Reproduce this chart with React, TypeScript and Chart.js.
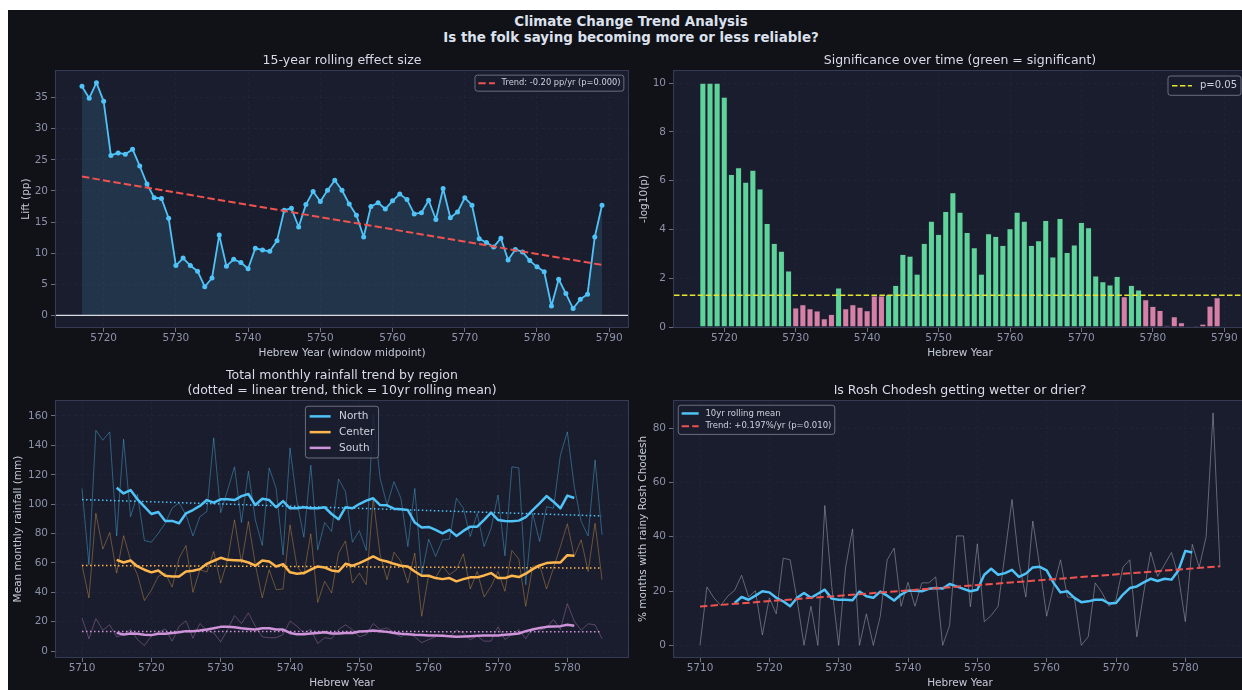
import React, { useEffect, useRef } from 'react';
import { Chart, registerables } from 'chart.js';

Chart.register(...registerables);

const FONT = '"DejaVu Sans", Verdana, sans-serif';
Chart.defaults.font.family = FONT;

// ---------- colours ----------
const FIG_BG = '#101218';
const AX_BG = '#1a1d2e';
const SPINE = '#363b55';
const TICK_TXT = '#8c91aa';
const TICK_MARK = '#6a6f88';
const LABEL_TXT = '#c6cad8';
const TITLE_TXT = '#d8dce8';
const LEGEND_TXT = '#cdd1dc';
const GRID = 'rgba(200,210,255,0.045)';
const BLUE = '#4fc3f7';
const BLUE_FILL = 'rgba(79,195,247,0.14)';
const ORANGE = '#ffb74d';
const PURPLE = '#ce93d8';
const RED = '#ef5350';
const YELLOW = '#e6e62e';
const GREEN_BAR = '#5ed49a';
const PINK_BAR = '#d680a6';

// ---------- text ----------
const SUPTITLE = ['Climate Change Trend Analysis', 'Is the folk saying becoming more or less reliable?'];
const TL_TITLE = '15-year rolling effect size';
const TR_TITLE = 'Significance over time (green = significant)';
const BL_TITLE = ['Total monthly rainfall trend by region', '(dotted = linear trend, thick = 10yr rolling mean)'];
const BR_TITLE = 'Is Rosh Chodesh getting wetter or drier?';
const TL_TREND_LABEL = 'Trend: -0.20 pp/yr (p=0.000)';
const TR_THRESHOLD_LABEL = 'p=0.05';
const BR_ROLL_LABEL = '10yr rolling mean';
const BR_TREND_LABEL = 'Trend: +0.197%/yr (p=0.010)';
const REGIONS = ['North', 'Center', 'South'];

// ---------- ticks ----------
const TOP_X_TICKS = [5720, 5730, 5740, 5750, 5760, 5770, 5780, 5790];
const BOT_X_TICKS = [5710, 5720, 5730, 5740, 5750, 5760, 5770, 5780];
const TL_Y_TICKS = [0, 5, 10, 15, 20, 25, 30, 35];
const TR_Y_TICKS = [0, 2, 4, 6, 8, 10];
const BL_Y_TICKS = [0, 20, 40, 60, 80, 100, 120, 140, 160];
const BR_Y_TICKS = [0, 20, 40, 60, 80];

// ---------- data: rolling-window panels ----------
const WINDOW_YEARS = [5717, 5718, 5719, 5720, 5721, 5722, 5723, 5724, 5725, 5726, 5727, 5728, 5729, 5730, 5731, 5732, 5733, 5734, 5735, 5736, 5737, 5738, 5739, 5740, 5741, 5742, 5743, 5744, 5745, 5746, 5747, 5748, 5749, 5750, 5751, 5752, 5753, 5754, 5755, 5756, 5757, 5758, 5759, 5760, 5761, 5762, 5763, 5764, 5765, 5766, 5767, 5768, 5769, 5770, 5771, 5772, 5773, 5774, 5775, 5776, 5777, 5778, 5779, 5780, 5781, 5782, 5783, 5784, 5785, 5786, 5787, 5788, 5789];
const LIFT = [36.8, 34.9, 37.4, 34.4, 25.7, 26.1, 25.9, 26.7, 24.0, 21.1, 18.9, 18.8, 15.6, 8.0, 9.2, 8.0, 7.1, 4.6, 6.0, 12.9, 7.9, 9.0, 8.5, 7.5, 10.8, 10.5, 10.3, 12.0, 16.9, 17.2, 14.2, 17.8, 19.9, 18.3, 20.1, 21.7, 20.1, 17.9, 16.1, 12.6, 17.5, 18.1, 17.1, 18.4, 19.5, 18.6, 16.3, 16.5, 18.5, 15.4, 20.4, 15.7, 16.6, 18.9, 17.7, 12.3, 11.7, 11.0, 12.4, 8.9, 10.6, 10.2, 8.8, 7.8, 7.0, 1.5, 5.8, 3.5, 1.1, 2.6, 3.4, 12.6, 17.7];
const TL_TREND_YEARS = [5717, 5789];
const TL_TREND = [22.3, 8.1];
const NEG_LOG_P = [10.0, 10.0, 10.0, 9.43, 6.26, 6.54, 5.94, 6.43, 5.66, 4.25, 3.43, 3.11, 2.30, 0.78, 0.92, 0.75, 0.66, 0.34, 0.52, 1.60, 0.75, 0.92, 0.81, 0.67, 1.28, 1.28, 1.33, 1.71, 2.98, 2.91, 2.17, 3.43, 4.34, 3.80, 4.74, 5.51, 4.71, 3.88, 3.25, 2.17, 3.83, 3.72, 3.35, 4.03, 4.71, 4.34, 3.35, 3.54, 4.37, 2.88, 4.45, 3.06, 3.37, 4.29, 4.08, 2.10, 1.86, 1.73, 2.08, 1.24, 1.71, 1.52, 1.12, 0.85, 0.68, 0.07, 0.42, 0.18, 0.01, 0.05, 0.12, 0.86, 1.20];
const P_THRESHOLD = 1.301;

// ---------- data: yearly panels ----------
const YEARS = [5710, 5711, 5712, 5713, 5714, 5715, 5716, 5717, 5718, 5719, 5720, 5721, 5722, 5723, 5724, 5725, 5726, 5727, 5728, 5729, 5730, 5731, 5732, 5733, 5734, 5735, 5736, 5737, 5738, 5739, 5740, 5741, 5742, 5743, 5744, 5745, 5746, 5747, 5748, 5749, 5750, 5751, 5752, 5753, 5754, 5755, 5756, 5757, 5758, 5759, 5760, 5761, 5762, 5763, 5764, 5765, 5766, 5767, 5768, 5769, 5770, 5771, 5772, 5773, 5774, 5775, 5776, 5777, 5778, 5779, 5780, 5781, 5782, 5783, 5784, 5785];
const ROLL_YEARS = [5715, 5716, 5717, 5718, 5719, 5720, 5721, 5722, 5723, 5724, 5725, 5726, 5727, 5728, 5729, 5730, 5731, 5732, 5733, 5734, 5735, 5736, 5737, 5738, 5739, 5740, 5741, 5742, 5743, 5744, 5745, 5746, 5747, 5748, 5749, 5750, 5751, 5752, 5753, 5754, 5755, 5756, 5757, 5758, 5759, 5760, 5761, 5762, 5763, 5764, 5765, 5766, 5767, 5768, 5769, 5770, 5771, 5772, 5773, 5774, 5775, 5776, 5777, 5778, 5779, 5780, 5781];
const TREND_YEARS = [5710, 5785];

const NORTH_RAW = [110.7, 58.8, 150.3, 143.5, 149.2, 78.4, 144.2, 91.5, 106.7, 75.3, 74.1, 80.2, 87.0, 97.2, 101.0, 92.7, 78.4, 91.5, 94.9, 145.1, 94.2, 109.6, 125.4, 87.5, 122.5, 89.3, 71.9, 124.7, 110.7, 65.5, 138.3, 101.7, 77.5, 126.5, 68.9, 87.5, 81.4, 117.1, 108.5, 74.1, 82.0, 68.5, 161.0, 117.5, 99.4, 115.3, 104.0, 71.2, 110.7, 52.0, 76.2, 64.4, 75.7, 76.2, 104.0, 97.2, 78.0, 93.8, 71.2, 83.6, 106.2, 64.9, 125.4, 124.7, 45.2, 93.8, 74.6, 98.3, 97.2, 133.3, 149.2, 111.9, 88.2, 78.4, 130.0, 79.1];
const CENTER_RAW = [58.8, 36.2, 93.8, 69.4, 80.7, 53.1, 78.6, 62.1, 52.0, 34.4, 41.4, 50.9, 53.1, 43.6, 63.3, 71.9, 40.0, 55.4, 53.8, 67.8, 46.3, 62.1, 89.3, 59.9, 88.2, 58.8, 36.2, 55.4, 41.8, 42.3, 85.9, 57.6, 52.0, 79.8, 33.2, 47.5, 39.6, 66.7, 75.0, 46.3, 53.1, 45.2, 104.0, 65.5, 48.6, 67.3, 61.0, 46.3, 66.7, 23.7, 52.0, 50.0, 58.0, 52.0, 55.4, 66.2, 42.3, 54.2, 36.8, 44.1, 54.2, 40.7, 68.5, 62.6, 30.5, 57.6, 58.8, 42.3, 56.5, 71.2, 86.6, 64.4, 75.7, 54.2, 87.0, 48.6];
const SOUTH_RAW = [22.6, 8.4, 22.1, 14.2, 17.9, 9.7, 11.3, 14.7, 7.9, 3.8, 10.2, 12.9, 15.1, 6.8, 16.9, 20.6, 8.8, 18.8, 14.2, 12.4, 6.3, 14.7, 24.2, 18.8, 26.0, 17.0, 9.7, 9.1, 9.1, 11.3, 20.4, 17.0, 12.4, 14.7, 5.2, 9.1, 8.4, 14.7, 17.9, 14.7, 9.7, 11.3, 18.8, 14.7, 15.8, 12.4, 9.7, 12.4, 9.7, 5.7, 7.9, 9.7, 11.3, 9.7, 14.2, 12.4, 7.7, 10.2, 6.8, 6.8, 16.5, 7.9, 11.3, 14.7, 8.4, 15.8, 14.2, 15.8, 21.5, 14.7, 32.3, 20.4, 14.2, 18.6, 17.9, 8.4];

const NORTH_ROLL = [111.2, 107.3, 109.6, 103.3, 98.3, 93.3, 94.7, 88.6, 88.6, 87.0, 93.8, 96.0, 98.8, 102.8, 101.0, 103.3, 103.3, 102.8, 105.5, 106.9, 99.4, 103.7, 102.8, 97.9, 102.1, 97.2, 97.2, 97.9, 97.2, 97.2, 97.9, 93.3, 89.7, 97.9, 97.2, 100.1, 102.4, 104.0, 99.4, 99.2, 96.9, 96.5, 96.0, 87.5, 84.1, 84.5, 82.5, 80.2, 82.5, 78.4, 81.8, 84.7, 84.7, 89.3, 94.2, 89.3, 88.6, 88.4, 88.8, 91.1, 96.0, 100.6, 105.5, 101.7, 97.2, 105.8, 104.2];
const CENTER_ROLL = [62.1, 60.3, 61.7, 57.6, 55.4, 53.6, 54.9, 51.3, 50.8, 50.8, 54.2, 54.7, 55.8, 59.4, 61.5, 63.5, 62.1, 61.9, 61.7, 60.3, 58.1, 61.7, 61.0, 57.6, 59.2, 53.6, 52.7, 53.1, 55.4, 57.6, 56.9, 54.9, 54.2, 59.4, 58.1, 59.9, 62.1, 64.4, 62.1, 61.0, 59.4, 58.1, 57.6, 54.2, 51.3, 51.3, 49.7, 49.0, 49.7, 47.5, 49.0, 50.2, 50.2, 51.5, 53.1, 49.7, 49.7, 51.3, 50.4, 52.7, 55.8, 58.3, 59.9, 60.3, 60.3, 65.3, 64.9];
const SOUTH_ROLL = [12.4, 11.3, 12.0, 11.8, 11.1, 10.9, 11.8, 11.8, 12.4, 12.9, 13.6, 13.6, 14.0, 14.7, 15.6, 16.5, 16.5, 16.3, 15.6, 15.1, 14.7, 15.6, 15.6, 14.7, 14.7, 12.4, 11.5, 11.5, 12.0, 12.4, 12.9, 12.0, 12.0, 12.4, 12.4, 13.3, 13.6, 14.0, 13.6, 13.1, 12.4, 11.8, 11.5, 11.1, 10.9, 10.6, 10.6, 10.4, 10.2, 9.7, 9.9, 10.2, 10.4, 10.6, 10.6, 10.6, 11.1, 11.5, 12.0, 13.6, 14.7, 15.8, 16.5, 16.7, 17.0, 17.9, 17.2];
const NORTH_TREND = [103.1, 92.0];
const CENTER_TREND = [58.3, 56.5];
const SOUTH_TREND = [13.4, 13.2];

const RC_RAW = [0, 21.5, 17.5, 14.7, 18.1, 20.3, 25.8, 17.8, 20.1, 3.8, 17.5, 11.6, 32.1, 31.5, 16.8, 0, 14.4, 0, 51.5, 21.7, 0, 28.8, 42.9, 0, 11.6, 0, 10.7, 31.5, 35.8, 14.4, 23.2, 14.4, 23.0, 23.0, 25.2, 0, 7.3, 40.3, 40.3, 14.2, 37.4, 8.7, 11.0, 14.4, 33.9, 53.7, 30.5, 17.8, 45.8, 29.1, 10.7, 21.7, 31.5, 17.8, 17.5, 0, 3.2, 23.0, 19.3, 14.4, 16.8, 28.8, 31.5, 3.1, 19.3, 34.3, 25.4, 29.7, 34.2, 25.6, 8.7, 37.2, 28.8, 40.0, 85.6, 28.8];
const RC_ROLL = [15.6, 17.8, 16.8, 18.3, 19.9, 19.5, 17.5, 16.2, 14.4, 17.5, 19.3, 17.5, 19.0, 20.5, 17.2, 16.8, 16.8, 16.6, 19.8, 18.1, 17.5, 19.8, 18.3, 16.5, 18.7, 20.1, 20.1, 19.9, 20.8, 21.1, 20.9, 22.6, 21.7, 20.8, 19.9, 20.5, 26.0, 28.2, 26.0, 26.6, 27.8, 25.2, 26.4, 28.7, 28.9, 27.6, 23.0, 19.5, 19.9, 17.5, 15.9, 16.2, 16.8, 16.8, 15.4, 15.6, 18.7, 21.1, 21.7, 23.2, 24.5, 23.7, 24.5, 24.2, 27.6, 34.8, 34.2];
const RC_TREND = [14.3, 29.1];

// ---------- helpers ----------
const pts = (xs: number[], ys: number[]) => xs.map((x, i) => ({ x, y: ys[i] }));
const TICK_FONT = { family: FONT, size: 10.5 };

function xAxis(min: number, max: number, ticks: number[], title: string) {
  return {
    type: 'linear', min, max, bounds: 'data', offset: false,
    afterBuildTicks: (s: any) => { s.ticks = ticks.map((v) => ({ value: v })); },
    afterFit: (s: any) => { s.height = 40; },
    ticks: { color: TICK_TXT, font: TICK_FONT, padding: 0, autoSkip: false, maxRotation: 0, callback: (v: any) => String(v) },
    grid: { color: GRID, lineWidth: 0.8, drawTicks: true, tickLength: 5, tickColor: TICK_MARK, tickWidth: 1, offset: false },
    border: { display: false, dash: [3, 3] },
    title: { display: true, text: title, color: LABEL_TXT, font: TICK_FONT, padding: { top: 0, bottom: 7.7 } },
  };
}

function yAxis(min: number, max: number, ticks: number[], title: string, titlePad: number) {
  return {
    type: 'linear', min, max, bounds: 'data',
    afterBuildTicks: (s: any) => { s.ticks = ticks.map((v) => ({ value: v })); },
    afterFit: (s: any) => { s.width = 56; },
    ticks: { color: TICK_TXT, font: TICK_FONT, padding: 3, autoSkip: false, callback: (v: any) => String(v) },
    grid: { color: GRID, lineWidth: 0.8, drawTicks: true, tickLength: 5, tickColor: TICK_MARK, tickWidth: 1 },
    border: { display: false, dash: [3, 3] },
    title: { display: true, text: title, color: LABEL_TXT, font: TICK_FONT, padding: { top: titlePad, bottom: 0 } },
  };
}

function drawLegend(chart: any, cfg: any) {
  const { ctx, chartArea: a } = chart;
  const f = cfg.fontSize;
  ctx.save();
  ctx.font = `${f}px ${FONT}`;
  const tw = Math.max(...cfg.items.map((it: any) => ctx.measureText(it.label).width));
  const pad = 0.4 * f, hl = 2 * f, htp = 0.8 * f, rowH = 1.13 * f, gap = 0.37 * f;
  const n = cfg.items.length;
  const w = pad * 2 + hl + htp + tw;
  const h = pad * 2 + n * rowH + (n - 1) * gap;
  const inset = 0.5 * f;
  let x: number;
  if (cfg.loc === 'upper right') x = a.right - inset - w;
  else if (cfg.loc === 'upper left') x = a.left + inset;
  else x = (a.left + a.right) / 2 - w / 2;
  const y = a.top + inset;
  const r = 2.5;
  ctx.beginPath();
  ctx.moveTo(x + r, y);
  ctx.lineTo(x + w - r, y);
  ctx.arcTo(x + w, y, x + w, y + r, r);
  ctx.lineTo(x + w, y + h - r);
  ctx.arcTo(x + w, y + h, x + w - r, y + h, r);
  ctx.lineTo(x + r, y + h);
  ctx.arcTo(x, y + h, x, y + h - r, r);
  ctx.lineTo(x, y + r);
  ctx.arcTo(x, y, x + r, y, r);
  ctx.closePath();
  ctx.fillStyle = 'rgba(26,29,46,0.82)';
  ctx.fill();
  ctx.strokeStyle = 'rgba(160,165,182,0.6)';
  ctx.lineWidth = 1;
  ctx.stroke();
  cfg.items.forEach((it: any, i: number) => {
    const cy = y + pad + rowH / 2 + i * (rowH + gap);
    ctx.beginPath();
    ctx.strokeStyle = it.color;
    ctx.lineWidth = it.width;
    ctx.setLineDash(it.dash || []);
    ctx.moveTo(x + pad, cy);
    ctx.lineTo(x + pad + hl, cy);
    ctx.stroke();
    ctx.setLineDash([]);
    ctx.fillStyle = LEGEND_TXT;
    ctx.textBaseline = 'middle';
    ctx.textAlign = 'left';
    ctx.fillText(it.label, x + pad + hl + htp, cy);
  });
  ctx.restore();
}

const mplPlugin = {
  id: 'mpl',
  beforeDraw(chart: any) {
    const { ctx, chartArea: a } = chart;
    ctx.save();
    ctx.fillStyle = AX_BG;
    ctx.fillRect(a.left, a.top, a.right - a.left, a.bottom - a.top);
    ctx.restore();
  },
  afterDatasetsDraw(chart: any, _args: any, opts: any) {
    const { ctx, chartArea: a, scales } = chart;
    (opts.hLines || []).forEach((l: any) => {
      const y = scales.y.getPixelForValue(l.value);
      ctx.save();
      ctx.beginPath();
      ctx.strokeStyle = l.color;
      ctx.lineWidth = l.width;
      ctx.setLineDash(l.dash || []);
      ctx.moveTo(a.left, y);
      ctx.lineTo(a.right, y);
      ctx.stroke();
      ctx.restore();
    });
  },
  afterDraw(chart: any, _args: any, opts: any) {
    const { ctx, chartArea: a } = chart;
    ctx.save();
    ctx.strokeStyle = SPINE;
    ctx.lineWidth = 1;
    ctx.strokeRect(a.left - 0.5, a.top - 0.5, a.right - a.left + 1, a.bottom - a.top + 1);
    ctx.restore();
    if (opts.legend) drawLegend(chart, opts.legend);
  },
};

function baseOptions(o: any) {
  return {
    responsive: false,
    animation: false,
    devicePixelRatio: 1,
    events: [],
    layout: { padding: { left: 0, right: 4, top: 0, bottom: 0 } },
    plugins: {
      legend: { display: false },
      tooltip: { enabled: false },
      title: {
        display: true, fullSize: false, text: o.title, color: TITLE_TXT,
        font: { family: FONT, size: 12.5, weight: 'normal', lineHeight: 1.2 },
        padding: o.titlePad,
      },
      mpl: { hLines: o.hLines || [], legend: o.legend },
    },
    scales: { x: o.x, y: o.y },
  };
}

// ---------- chart configs ----------
const tlConfig = () => ({
  type: 'line',
  data: {
    datasets: [
      { label: TL_TREND_LABEL, data: pts(TL_TREND_YEARS, TL_TREND), borderColor: RED, borderWidth: 2, borderDash: [7.4, 3.2], pointRadius: 0, fill: false, order: 1 },
      { label: 'Lift', data: pts(WINDOW_YEARS, LIFT), borderColor: BLUE, borderWidth: 1.8, pointRadius: 2.5, pointBackgroundColor: BLUE, pointBorderWidth: 0, fill: 'origin', backgroundColor: BLUE_FILL, borderJoinStyle: 'round', order: 2 },
    ],
  },
  options: baseOptions({
    title: TL_TITLE,
    titlePad: { top: 12.5, bottom: 2.5 },
    x: xAxis(5713.4, 5792.6, TOP_X_TICKS, 'Hebrew Year (window midpoint)'),
    y: yAxis(-1.87, 39.27, TL_Y_TICKS, 'Lift (pp)', 19.7),
    hLines: [{ value: 0, color: 'rgba(240,240,245,0.9)', width: 1.2 }],
    legend: { loc: 'upper right', fontSize: 8.3, items: [{ label: TL_TREND_LABEL, color: RED, width: 2, dash: [7.4, 3.2] }] },
  }),
  plugins: [mplPlugin],
});

const trConfig = () => ({
  type: 'bar',
  data: {
    datasets: [
      {
        label: '-log10(p)', data: pts(WINDOW_YEARS, NEG_LOG_P),
        backgroundColor: NEG_LOG_P.map((v) => (v > P_THRESHOLD ? GREEN_BAR : PINK_BAR)),
        borderColor: 'rgba(45,50,68,0.9)', borderWidth: 0.6,
        barPercentage: 0.87, categoryPercentage: 1.0,
      },
    ],
  },
  options: baseOptions({
    title: TR_TITLE,
    titlePad: { top: 12.5, bottom: 2.5 },
    x: xAxis(5712.96, 5793.04, TOP_X_TICKS, 'Hebrew Year'),
    y: yAxis(0, 10.5, TR_Y_TICKS, '-log10(p)', 19.7),
    hLines: [{ value: P_THRESHOLD, color: YELLOW, width: 1.5, dash: [5.5, 2.4] }],
    legend: { loc: 'upper right', fontSize: 10, items: [{ label: TR_THRESHOLD_LABEL, color: YELLOW, width: 1.5, dash: [5.5, 2.4] }] },
  }),
  plugins: [mplPlugin],
});

const rawLine = (ys: number[], color: string) => ({ data: pts(YEARS, ys), borderColor: color, borderWidth: 1, pointRadius: 0, fill: false, order: 3 });
const rollLine = (label: string, ys: number[], color: string) => ({ label, data: pts(ROLL_YEARS, ys), borderColor: color, borderWidth: 2.5, pointRadius: 0, fill: false, borderJoinStyle: 'round', order: 2 });
const trendLine = (ys: number[], color: string) => ({ data: pts(TREND_YEARS, ys), borderColor: color, borderWidth: 1.5, borderDash: [1.5, 2.5], pointRadius: 0, fill: false, order: 1 });

const blConfig = () => ({
  type: 'line',
  data: {
    datasets: [
      rawLine(NORTH_RAW, 'rgba(79,195,247,0.4)'),
      rawLine(CENTER_RAW, 'rgba(255,183,77,0.35)'),
      rawLine(SOUTH_RAW, 'rgba(206,147,216,0.35)'),
      rollLine(REGIONS[0], NORTH_ROLL, BLUE),
      rollLine(REGIONS[1], CENTER_ROLL, ORANGE),
      rollLine(REGIONS[2], SOUTH_ROLL, PURPLE),
      trendLine(NORTH_TREND, BLUE),
      trendLine(CENTER_TREND, ORANGE),
      trendLine(SOUTH_TREND, PURPLE),
    ],
  },
  options: baseOptions({
    title: BL_TITLE,
    titlePad: { top: 7, bottom: 3 },
    x: xAxis(5706.25, 5788.75, BOT_X_TICKS, 'Hebrew Year'),
    y: yAxis(-4, 170.2, BL_Y_TICKS, 'Mean monthly rainfall (mm)', 12),
    legend: {
      loc: 'upper center', fontSize: 10.5,
      items: [
        { label: REGIONS[0], color: BLUE, width: 2.5 },
        { label: REGIONS[1], color: ORANGE, width: 2.5 },
        { label: REGIONS[2], color: PURPLE, width: 2.5 },
      ],
    },
  }),
  plugins: [mplPlugin],
});

const brConfig = () => ({
  type: 'line',
  data: {
    datasets: [
      { data: pts(YEARS, RC_RAW), borderColor: 'rgba(160,162,172,0.55)', borderWidth: 1, pointRadius: 0, fill: false, order: 3 },
      { label: BR_ROLL_LABEL, data: pts(ROLL_YEARS, RC_ROLL), borderColor: BLUE, borderWidth: 2.5, pointRadius: 0, fill: false, borderJoinStyle: 'round', order: 2 },
      { label: BR_TREND_LABEL, data: pts(TREND_YEARS, RC_TREND), borderColor: RED, borderWidth: 2, borderDash: [7.4, 3.2], pointRadius: 0, fill: false, order: 1 },
    ],
  },
  options: baseOptions({
    title: BR_TITLE,
    titlePad: { top: 22, bottom: 3 },
    x: xAxis(5706.25, 5788.75, BOT_X_TICKS, 'Hebrew Year'),
    y: yAxis(-4.3, 90, BR_Y_TICKS, '% months with rainy Rosh Chodesh', 18.7),
    legend: {
      loc: 'upper left', fontSize: 8.5,
      items: [
        { label: BR_ROLL_LABEL, color: BLUE, width: 2.5 },
        { label: BR_TREND_LABEL, color: RED, width: 2, dash: [7.4, 3.2] },
      ],
    },
  }),
  plugins: [mplPlugin],
});

// ---------- components ----------
function Panel(props: { make: () => any; left: number; top: number; width: number; height: number }) {
  const ref = useRef<HTMLCanvasElement>(null);
  useEffect(() => {
    const chart = new Chart(ref.current as HTMLCanvasElement, props.make() as any);
    return () => chart.destroy();
  }, []);
  return (
    <canvas
      ref={ref}
      width={props.width}
      height={props.height}
      style={{ position: 'absolute', left: props.left, top: props.top, width: props.width, height: props.height }}
    />
  );
}

export default function App() {
  return (
    <div style={{ position: 'fixed', left: 0, top: 0, width: 1242, height: 690, overflow: 'hidden', background: '#ffffff' }}>
      <div style={{ position: 'absolute', left: 8, top: 10, width: 1250, height: 700, background: FIG_BG }} />
      <div
        style={{
          position: 'absolute', left: 8, top: 14, width: 1246, textAlign: 'center',
          fontFamily: FONT, fontWeight: 'bold', fontSize: 13.4, lineHeight: '16px', color: '#dde1ee',
        }}
      >
        <div>{SUPTITLE[0]}</div>
        <div>{SUPTITLE[1]}</div>
      </div>
      <Panel make={tlConfig} left={0} top={41} width={632} height={326} />
      <Panel make={trConfig} left={618} top={41} width={632} height={326} />
      <Panel make={blConfig} left={0} top={361} width={632} height={336} />
      <Panel make={brConfig} left={618} top={361} width={632} height={336} />
    </div>
  );
}
